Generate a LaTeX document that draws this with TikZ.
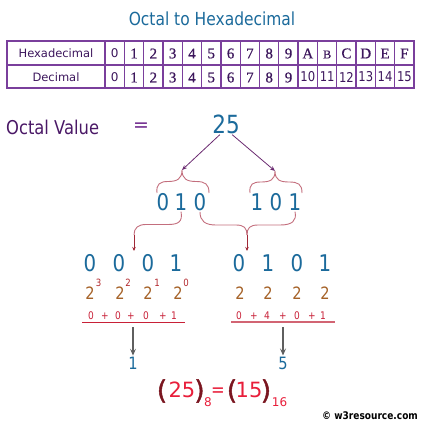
\documentclass[tikz,border=0pt]{standalone}
\usepackage{fontspec}
\setmainfont{DejaVu Sans}
\newfontfamily\tah[FakeStretch=0.86]{DejaVu Sans}
\newfontfamily\parfont[FakeBold=1.6]{DejaVu Sans}
\newfontfamily\ser[FakeBold=0.6]{Liberation Serif}
\usetikzlibrary{arrows.meta}
\definecolor{ttl}{RGB}{27,106,155}
\definecolor{tblline}{RGB}{122,63,156}
\definecolor{tbltext}{RGB}{60,22,92}
\definecolor{ovc}{RGB}{74,24,102}
\definecolor{eqc}{RGB}{110,40,140}
\definecolor{parrc}{RGB}{106,42,112}
\definecolor{bracec}{RGB}{195,110,125}
\definecolor{darr}{RGB}{160,40,55}
\definecolor{powc}{RGB}{165,98,40}
\definecolor{expc}{RGB}{178,40,45}
\definecolor{sumc}{RGB}{200,32,55}
\definecolor{suml}{RGB}{210,100,115}
\definecolor{grayarr}{RGB}{95,95,95}
\definecolor{finred}{RGB}{232,30,58}
\definecolor{parc}{RGB}{122,22,32}
\newcommand{\fsz}[1]{\fontsize{#1}{#1}\selectfont}
\tikzset{
  every node/.style={inner sep=1pt},
  tbl/.style={draw=tblline, line width=1.3pt},
  tlabel/.style={text=tbltext, font=\fsz{11.5}},
  tsans/.style={text=tbltext, font=\fsz{12}},
  tser/.style={text=tbltext, font=\ser\fsz{15}},
  tnum/.style={text=tbltext, font=\tah\fsz{13.5}},
  bdig/.style={text=ttl, font=\tah\fsz{23}},
  parr/.style={draw=parrc, line width=0.8pt, -{Stealth[length=5pt,width=4pt]}},
  bracestyle/.style={draw=bracec, line width=0.9pt},
  darrow/.style={draw=darr, line width=0.8pt, -{Stealth[length=4pt,width=3.5pt]}},
  powtwo/.style={text=powc, font=\tah\fsz{17}},
  expo/.style={text=expc, font=\tah\fsz{10}},
  sumtok/.style={text=sumc, font=\tah\fsz{10.5}},
  garrow/.style={draw=grayarr, line width=1.4pt, -{Stealth[length=7pt,width=6pt,inset=3pt]}},
  resdig/.style={text=ttl, font=\tah\fsz{17}},
  fin/.style={text=finred, font=\fsz{21}, inner sep=0pt},
  finsub/.style={text=finred, font=\fsz{12}, inner sep=0pt},
  finpar/.style={text=parc, font=\parfont\fsz{26}, inner sep=0pt},
}
\begin{document}
\begin{tikzpicture}[x=1pt,y=-1pt]
\useasboundingbox (0,0) rectangle (424,427);
% title
\node[text=ttl, font=\tah\fsz{18}] (title) at (212,19) {Octal to Hexadecimal};
% table
\draw[tbl] (7,41) rectangle (414,88);
\draw[tbl] (7,65) -- (414,65);
\foreach \i in {0,...,15} \draw[tbl] ({105+\i*19.3125},41) -- ++(0,47);
\node[tlabel] (hexlab) at (56,53) {Hexadecimal};
\node[tlabel] (declab) at (56,77) {Decimal};
\node[tsans] (h0) at (114.7,53) {0};
\foreach \t [count=\i] in {1,2,3,4,5,6,7,8,9,A}
  \node[tser] (h\i) at ({114.7+\i*19.3125},53.5) {\t};
\node[tser, font=\ser\fsz{12}] (h11) at ({114.7+11*19.3125},54.5) {B};
\foreach \t [count=\i from 12] in {C,D,E,F}
  \node[tser] (h\i) at ({114.7+\i*19.3125},53.5) {\t};
\node[tsans] (d0) at (114.7,77) {0};
\foreach \t [count=\i] in {1,2,3,4,5,6,7,8,9}
  \node[tser] (d\i) at ({114.7+\i*19.3125},77.5) {\t};
\foreach \t [count=\i from 10] in {10,11,12,13,14,15}
  \node[tnum] (d\i) at ({114.7+\i*19.3125},77) {\t};
% octal value
\node[anchor=west, text=ovc, font=\tah\fsz{19}] (ov) at (5,127) {Octal Value};
\node[text=eqc, font=\fsz{19}] (eq) at (141,127) {=};
\node[text=ttl, font=\tah\fsz{25}] (n25) at (226,124) {25};
\coordinate (tipL) at (182,170);
\coordinate (tipR) at (275,171);
\draw[parr] (n25.240) -- (tipL);
\draw[parr] (n25.300) -- (tipR);
% top braces
\draw[bracestyle] (157,193) .. controls (156,184) and (160,181.5) .. (168,181.5)
  .. controls (177,181.5) and (182,179) .. (tipL)
  .. controls (182,179) and (187,181.5) .. (196,181.5)
  .. controls (205,181.5) and (209,184) .. (209,193);
\draw[bracestyle] (250,193) .. controls (249,184) and (253,182) .. (261,182)
  .. controls (270,182) and (275,180) .. (tipR)
  .. controls (275,180) and (280,182) .. (289,182)
  .. controls (298,182) and (302,184) .. (302,193);
% binary groups
\node[bdig] (b1) at (163,202) {0};
\node[bdig] (b2) at (181,202) {1};
\node[bdig] (b3) at (200,202) {0};
\node[bdig] (b4) at (257,202) {1};
\node[bdig] (b5) at (276,202) {0};
\node[bdig] (b6) at (295,202) {1};
% lower braces
\coordinate (lkL) at (134,235);
\coordinate (lkR) at (247,235);
\draw[bracestyle] (b2.south) .. controls (183,222) and (178,224.5) .. (168,224.5)
  -- (146,224.5) .. controls (138,224.5) and (134,228) .. (lkL);
\draw[bracestyle] (b3.south) .. controls (200,221) and (205,225) .. (216,225)
  -- (236,225) .. controls (244,225) and (247,228) .. (lkR);
\draw[bracestyle] (b6.south) .. controls (297,221) and (292,225) .. (280,225)
  -- (258,225) .. controls (250,225) and (247,228) .. (lkR);
\coordinate (endL) at (134,251);
\coordinate (endR) at (247,251);
\draw[darrow] (lkL) -- (endL);
\draw[darrow] (lkR) -- (endR);
% 4-bit groups
\node[bdig] (c1) at (90,263) {0};
\node[bdig] (c2) at (119,263) {0};
\node[bdig] (c3) at (148,263) {0};
\node[bdig] (c4) at (176,263) {1};
\node[bdig] (e1) at (239,263) {0};
\node[bdig] (e2) at (268,263) {1};
\node[bdig] (e3) at (297,263) {0};
\node[bdig] (e4) at (325,263) {1};
% powers
\node[powtwo] (p1) at (90,293) {2};
\node[powtwo] (p2) at (120,293) {2};
\node[powtwo] (p3) at (148,293) {2};
\node[powtwo] (p4) at (178,293) {2};
\node[expo] (x1) at (98.5,283) {3};
\node[expo] (x2) at (128,283) {2};
\node[expo] (x3) at (157,283) {1};
\node[expo] (x4) at (186,283) {0};
\node[powtwo] (q1) at (240,293) {2};
\node[powtwo] (q2) at (268,293) {2};
\node[powtwo] (q3) at (297,293) {2};
\node[powtwo] (q4) at (325,293) {2};
% sums
\foreach \t/\xx [count=\i] in {0/91,+/105,0/118,+/131,0/146,+/163,1/174}
  \node[sumtok] (s\i) at (\xx,316) {\t};
\foreach \t/\xx [count=\i] in {0/239,+/254,4/267,+/283,0/297,+/312,1/323}
  \node[sumtok] (r\i) at (\xx,316) {\t};
\coordinate (uL1) at (82,322);
\coordinate (uL2) at (185,322);
\coordinate (uR1) at (231,322);
\coordinate (uR2) at (335,322);
\draw[draw=sumc, line width=1pt] (uL1) -- (uL2);
\draw[draw=suml, line width=1.5pt] (uR1) -- (uR2);
% results
\node[resdig] (res1) at (133,363) {1};
\node[resdig] (res5) at (283,363) {5};
\coordinate (gL) at (133,327);
\coordinate (gR) at (283,327);
\draw[garrow] (gL) -- (res1.north);
\draw[garrow] (gR) -- (res5.north);
% final equation
\node[finpar] (fp1) at (162,391) {(};
\node[fin] (f25) at (182,390) {25};
\node[finpar] (fp2) at (199.5,391) {)};
\node[finsub] (f8) at (208,402) {8};
\node[fin, font=\tah\fsz{19}] (feq) at (218,392) {=};
\node[finpar] (fp3) at (232,391) {(};
\node[fin] (f15) at (249,390) {15};
\node[finpar] (fp4) at (266,391) {)};
\node[finsub] (f16) at (279.5,402) {16};
% copyright
\node[text=black, font=\tah\bfseries\fsz{10.5}] (copy) at (370,416) {© w3resource.com};
\end{tikzpicture}
\end{document}
